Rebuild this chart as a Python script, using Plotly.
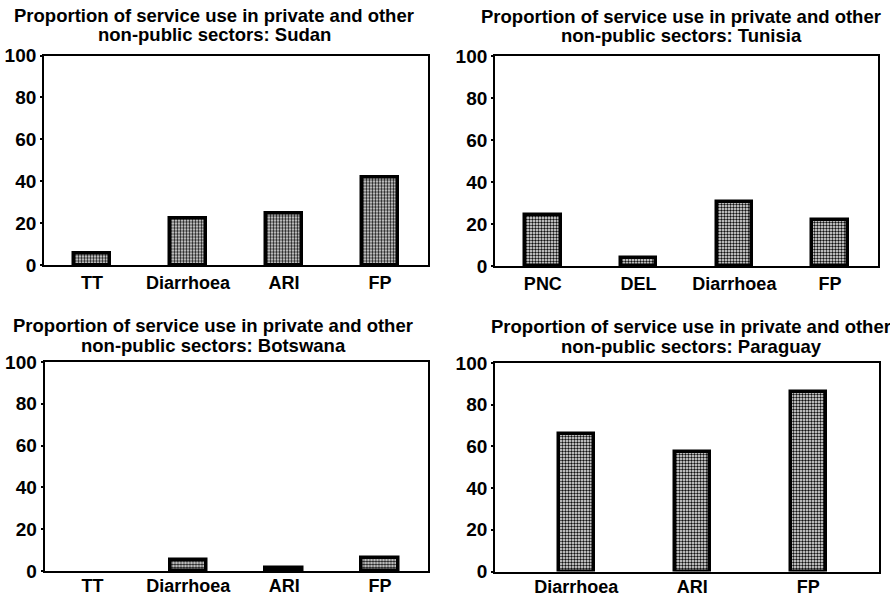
import plotly.graph_objects as go

# ---- data ----
title_line1 = "Proportion of service use in private and other"
title_line2_prefix = "non-public sectors: "
countries = ["Sudan", "Tunisia", "Botswana", "Paraguay"]

sudan_cats = ["TT", "Diarrhoea", "ARI", "FP"]
sudan_vals = [5.5, 22, 24.6, 41.6]

tunisia_cats = ["PNC", "DEL", "Diarrhoea", "FP"]
tunisia_vals = [24.4, 4, 30.6, 22]

botswana_cats = ["TT", "Diarrhoea", "ARI", "FP"]
botswana_vals = [0, 5.2, 1.3, 6]

paraguay_cats = ["Diarrhoea", "ARI", "FP"]
paraguay_vals = [65.8, 57.2, 86.2]

y_ticks = [0, 20, 40, 60, 80, 100]

# ---- layout helpers ----
W, H = 890, 599
FONT = "Liberation Sans, Arial, Helvetica, sans-serif"

panels = [
    # cats, vals, x px range, y px range (top, bottom), bar width, x range,
    # title center x, title line1 center y, line2 center y, label standoff
    (sudan_cats, sudan_vals, (44, 428), (55.5, 265), 0.38, [-0.5, 3.5], 214, 15, 35, 0),
    (tunisia_cats, tunisia_vals, (495, 878), (56, 266), 0.37, [-0.5, 3.5], 681, 16, 36, 0),
    (botswana_cats, botswana_vals, (44.5, 428), (362, 571), 0.38, [-0.5, 3.5], 213, 325, 345, -3),
    (paraguay_cats, paraguay_vals, (495, 879), (363, 571.5), 0.30, [-0.7, 2.61], 691, 326, 346, -2),
]

fig = go.Figure()
layout = dict(
    width=W, height=H,
    margin=dict(l=0, r=0, t=0, b=0, autoexpand=False),
    paper_bgcolor="white", plot_bgcolor="white",
    showlegend=False,
    font=dict(family=FONT, color="black", size=17),
    bargap=0,
)
annotations = []

for i, (cats, vals, (x0, x1), (yt, yb), bw, xr, tx, ty1, ty2, so) in enumerate(panels):
    n = i + 1
    xa = "x" if n == 1 else f"x{n}"
    ya = "y" if n == 1 else f"y{n}"
    fig.add_trace(go.Bar(
        x=cats, y=vals, xaxis=xa, yaxis=ya, width=bw,
        marker=dict(
            color="#808080",
            line=dict(color="black", width=[3.5 if v > 0 else 0 for v in vals]),
            pattern=dict(shape=".", fgcolor="#111111", bgcolor="#f2f2f2",
                         size=3, solidity=0.5, fillmode="replace"),
        ),
    ))
    xkey = "xaxis" if n == 1 else f"xaxis{n}"
    ykey = "yaxis" if n == 1 else f"yaxis{n}"
    layout[xkey] = dict(
        domain=[x0 / W, x1 / W], anchor=ya, automargin=False,
        type="category", categoryorder="array", categoryarray=cats,
        range=xr, showline=True, linecolor="black", linewidth=1.8, mirror=True,
        ticks="", showgrid=False, zeroline=False, ticklabelstandoff=so,
        tickfont=dict(family=FONT, size=18, color="black", weight="bold"),
    )
    layout[ykey] = dict(
        domain=[1 - yb / H, 1 - yt / H], anchor=xa, automargin=False,
        range=[0, 100], tickvals=y_ticks, ticktext=[str(v) for v in y_ticks],
        showline=True, linecolor="black", linewidth=1.8, mirror=True,
        ticks="outside", ticklen=2, tickwidth=1.5, tickcolor="black",
        showgrid=False, zeroline=False,
        tickfont=dict(family=FONT, size=19, color="black", weight="bold"),
    )
    for txt, ty in ((title_line1, ty1), (title_line2_prefix + countries[i], ty2)):
        annotations.append(dict(
            text=txt,
            x=tx / W, y=1 - ty / H, xref="paper", yref="paper",
            xanchor="center", yanchor="middle", showarrow=False,
            font=dict(family=FONT, size=18.5, color="black", weight="bold"),
        ))

layout["annotations"] = annotations
fig.update_layout(**layout)
fig.write_html("out.html", config={"displayModeBar": False},
               post_script="document.body.style.margin='0px';")
